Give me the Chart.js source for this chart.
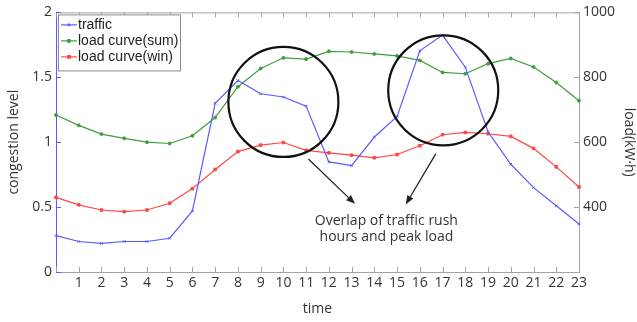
<!doctype html>
<html lang="en">

<head>
  <meta charset="utf-8">
  <title>Traffic congestion and load curves</title>
  <script src="https://cdn.jsdelivr.net/npm/chart.js"></script>
  <style>
    html, body { margin: 0; padding: 0; background: #fff; }
    canvas { display: block; }
  </style>
</head>

<body>
  <canvas id="loadChart" width="637" height="322"></canvas>

  <script>
    // === DATA ===

    const hours = ['0', '1', '2', '3', '4', '5', '6', '7', '8', '9', '10', '11',
                   '12', '13', '14', '15', '16', '17', '18', '19', '20', '21', '22', '23'];

    // congestion level (left axis)
    const traffic = [0.28, 0.235, 0.22, 0.235, 0.235, 0.26, 0.47, 1.30, 1.475, 1.373, 1.348, 1.278,
                     0.848, 0.82, 1.04, 1.198, 1.704, 1.825, 1.578, 1.08, 0.83, 0.65, 0.51, 0.37];

    // load in kW·h (right axis)
    const loadSum = [684, 652, 625, 612, 600, 596, 620, 676, 771, 827, 860, 856,
                     880, 878, 872, 866, 852, 815, 811, 842, 858, 832, 784, 728];
    const loadWin = [430, 407, 391, 386, 391, 412, 457, 516, 571, 591, 599, 575,
                     567, 560, 552, 562, 589, 623, 630, 626, 618, 581, 524, 462];

    const congestionTicks = [0, 0.5, 1, 1.5, 2];
    const loadTicks = [400, 600, 800, 1000];

    const noteLines = ['Overlap of traffic rush', 'hours and peak load'];

    // === COLOURS / FONTS ===

    const BLUE = '#5a5aff';
    const GREEN = '#3f9e3f';
    const RED = '#ff4646';
    const AXIS_GREY = '#a3a3a3';
    const TEXT = '#333';

    Chart.defaults.font.family = '"Open Sans", "DejaVu Sans", sans-serif';
    Chart.defaults.font.size = 14;
    Chart.defaults.color = TEXT;

    // === PLUGIN: box border and inward tick marks ===

    const frame = {
      id: 'frame',
      afterDraw(chart) {
        const { ctx, chartArea: a, scales } = chart;
        ctx.save();
        ctx.lineWidth = 1;

        ctx.strokeStyle = AXIS_GREY;
        ctx.beginPath();
        ctx.moveTo(a.left, a.top + 0.5);
        ctx.lineTo(a.right, a.top + 0.5);
        hours.forEach((h, i) => {
          const x = Math.round(scales.x.getPixelForValue(i)) + 0.5;
          ctx.moveTo(x, a.top);
          ctx.lineTo(x, a.top + 5);
          ctx.moveTo(x, a.bottom);
          ctx.lineTo(x, a.bottom - 5);
        });
        loadTicks.forEach(v => {
          const y = Math.round(scales.y1.getPixelForValue(v)) + 0.5;
          ctx.moveTo(a.right, y);
          ctx.lineTo(a.right - 5, y);
        });
        ctx.stroke();

        ctx.strokeStyle = BLUE;
        ctx.beginPath();
        congestionTicks.forEach(v => {
          const y = Math.round(scales.y.getPixelForValue(v)) + 0.5;
          ctx.moveTo(a.left, y);
          ctx.lineTo(a.left + 5, y);
        });
        ctx.stroke();
        ctx.restore();
      }
    };

    // === PLUGIN: rush-hour circles, arrows and note ===

    const rushNote = {
      id: 'rushNote',
      afterDatasetsDraw(chart) {
        const { ctx, scales } = chart;
        const px = h => scales.x.getPixelForValue(h);
        const py = v => scales.y.getPixelForValue(v);
        ctx.save();

        // circles round the two rush periods
        ctx.strokeStyle = '#111';
        ctx.lineWidth = 2.2;
        [[10, 1.31], [17.03, 1.40]].forEach(([h, v]) => {
          ctx.beginPath();
          ctx.arc(px(h), py(v), 55, 0, Math.PI * 2);
          ctx.stroke();
        });

        // arrows pointing at the note
        ctx.strokeStyle = '#222';
        ctx.fillStyle = '#222';
        ctx.lineWidth = 1.3;
        [[11.1, 0.87, 13.15, 0.525], [16.7, 0.91, 15.38, 0.52]].forEach(([h0, v0, h1, v1]) => {
          const x0 = px(h0), y0 = py(v0), x1 = px(h1), y1 = py(v1);
          const ang = Math.atan2(y1 - y0, x1 - x0);
          const len = 9, half = 3.5;
          const bx = x1 - len * Math.cos(ang), by = y1 - len * Math.sin(ang);
          ctx.beginPath();
          ctx.moveTo(x0, y0);
          ctx.lineTo(bx, by);
          ctx.stroke();
          ctx.beginPath();
          ctx.moveTo(x1, y1);
          ctx.lineTo(bx + half * Math.sin(ang), by - half * Math.cos(ang));
          ctx.lineTo(bx - half * Math.sin(ang), by + half * Math.cos(ang));
          ctx.closePath();
          ctx.fill();
        });

        ctx.fillStyle = TEXT;
        ctx.font = '14px "Open Sans", sans-serif';
        ctx.textAlign = 'center';
        ctx.textBaseline = 'alphabetic';
        const cx = px(14.53);
        ctx.fillText(noteLines[0], cx, py(0.365));
        ctx.fillText(noteLines[1], cx, py(0.24));
        ctx.restore();
      }
    };

    // === PLUGIN: legend box in the upper-left corner ===

    const cornerLegend = {
      id: 'cornerLegend',
      afterDraw(chart) {
        const { ctx, chartArea: a } = chart;
        const x = a.left + 2, y = a.top + 2, w = 122, h = 56;
        ctx.save();
        ctx.fillStyle = '#fff';
        ctx.fillRect(x, y, w, h);
        ctx.strokeStyle = '#8a8a8a';
        ctx.lineWidth = 1;
        ctx.strokeRect(x + 0.5, y + 0.5, w, h);

        ctx.font = '14px "Liberation Sans", Arial, sans-serif';
        ctx.textBaseline = 'middle';
        chart.data.datasets.forEach((ds, i) => {
          const ry = y + 10.5 + i * 16;
          ctx.strokeStyle = ds.borderColor;
          ctx.lineWidth = 1.2;
          ctx.beginPath();
          ctx.moveTo(x + 3, ry);
          ctx.lineTo(x + 19, ry);
          ctx.stroke();
          ctx.fillStyle = ds.borderColor;
          Chart.helpers.drawPoint(ctx, {
            pointStyle: ds.pointStyle,
            radius: ds.pointRadius,
            rotation: 0,
            borderWidth: 1
          }, x + 11, ry);
          ctx.fillStyle = '#222';
          ctx.fillText(ds.label, x + 20, ry + 0.5);
        });
        ctx.restore();
      }
    };

    // === CHART ===

    new Chart(document.getElementById('loadChart'), {
      type: 'line',
      data: {
        labels: hours,
        datasets: [
          {
            label: 'traffic',
            data: traffic,
            yAxisID: 'y',
            borderColor: BLUE,
            backgroundColor: BLUE,
            borderWidth: 1.2,
            pointStyle: 'crossRot',
            pointRadius: 1.8,
            pointBorderWidth: 1
          },
          {
            label: 'load curve(sum)',
            data: loadSum,
            yAxisID: 'y1',
            borderColor: GREEN,
            backgroundColor: GREEN,
            borderWidth: 1.2,
            pointStyle: 'circle',
            pointRadius: 1.5,
            pointBorderWidth: 1
          },
          {
            label: 'load curve(win)',
            data: loadWin,
            yAxisID: 'y1',
            borderColor: RED,
            backgroundColor: RED,
            borderWidth: 1.2,
            pointStyle: 'rect',
            pointRadius: 1.8,
            pointBorderWidth: 1
          }
        ]
      },
      options: {
        responsive: false,
        animation: false,
        events: [],
        layout: { padding: { top: 11, left: 0, right: 0, bottom: 0 } },
        plugins: {
          legend: { display: false },
          tooltip: { enabled: false }
        },
        scales: {
          x: {
            offset: false,
            grid: { display: false, drawTicks: false },
            border: { color: AXIS_GREY },
            ticks: {
              autoSkip: false,
              maxRotation: 0,
              padding: 3,
              callback: (val, i) => (i === 0 ? '' : hours[i])
            },
            title: { display: true, text: 'time', padding: { top: 0, bottom: 5 } },
            afterFit: s => { s.height = 50; }
          },
          y: {
            position: 'left',
            min: 0,
            max: 2,
            grid: { display: false, drawTicks: false },
            border: { color: BLUE },
            ticks: { padding: 4, callback: v => String(v) },
            afterBuildTicks: s => { s.ticks = congestionTicks.map(v => ({ value: v })); },
            title: { display: true, text: 'congestion level', padding: { top: 6, bottom: 0 } },
            afterFit: s => { s.width = 56; }
          },
          y1: {
            position: 'right',
            min: 200,
            max: 1000,
            grid: { display: false, drawTicks: false },
            border: { color: AXIS_GREY },
            ticks: { padding: 4, callback: v => String(v) },
            afterBuildTicks: s => { s.ticks = loadTicks.map(v => ({ value: v })); },
            title: { display: true, text: 'load(kW·h)', padding: { top: 0, bottom: 0 } },
            afterFit: s => { s.width = 58; }
          }
        }
      },
      plugins: [frame, rushNote, cornerLegend]
    });
  </script>

</body>

</html>
